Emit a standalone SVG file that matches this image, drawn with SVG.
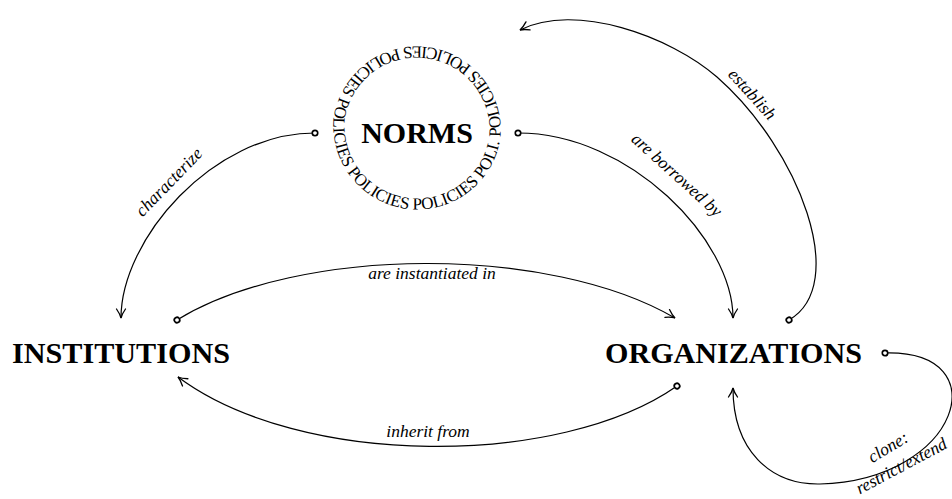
<svg xmlns="http://www.w3.org/2000/svg" width="952" height="499" viewBox="0 0 952 499">
<defs>
<style>
.node{font-family:"Liberation Serif","Times New Roman",serif;font-weight:bold;font-size:30px;fill:#000}
.ring{font-family:"Liberation Serif","Times New Roman",serif;font-size:17px;fill:#000}
.lbl{font-family:"Liberation Serif","Times New Roman",serif;font-style:italic;font-size:17.5px;fill:#000}
.edge{fill:none;stroke:#000;stroke-width:1.2;marker-start:url(#dot);marker-end:url(#arr)}
</style>
<marker id="arr" markerUnits="userSpaceOnUse" viewBox="-10 -6 12 12" refX="0" refY="0" markerWidth="12" markerHeight="12" orient="auto" overflow="visible">
<path d="M -9,-4.5 C -5,-1.7 -2,-0.5 0,0 C -2,0.5 -5,1.7 -9,4.5" fill="none" stroke="#000" stroke-width="1.3" stroke-linecap="round"/>
</marker>
<marker id="dot" markerUnits="userSpaceOnUse" viewBox="-5 -5 10 10" refX="0" refY="0" markerWidth="10" markerHeight="10" orient="auto" overflow="visible">
<circle cx="0" cy="0" r="2.7" fill="#fff" stroke="#000" stroke-width="1.7"/>
</marker>
<path id="ringpath" d="M 500.5,136.8 A 84,84 0 0 0 333.5,119.2 A 84,84 0 0 0 500.5,136.8"/>
</defs>
<rect width="952" height="499" fill="#fff"/>
<g id="norms">
<text class="ring"><textPath href="#ringpath" textLength="512" lengthAdjust="spacing">POLICIES POLICIES POLICIES POLICIES POLICIES POLICIES POLI.</textPath></text>
<text class="node" x="417" y="143" text-anchor="middle">NORMS</text>
</g>
<g id="institutions">
<text class="node" x="121" y="363" text-anchor="middle" textLength="218" lengthAdjust="spacingAndGlyphs">INSTITUTIONS</text>
</g>
<g id="organizations">
<text class="node" x="733.5" y="363" text-anchor="middle" textLength="257" lengthAdjust="spacingAndGlyphs">ORGANIZATIONS</text>
</g>
<g id="connectors">
<path class="edge" d="M 315,133 C 212,133 121,240 121,318"/>
<path class="edge" d="M 177,320 C 300,245 550,245 675,318"/>
<path class="edge" d="M 518,133 C 630,133 733,240 733,318"/>
<path class="edge" d="M 789,320 C 850,285 800,150 717,77 C 670,36 575,2 520,30"/>
<path class="edge" d="M 677,386 C 560,468 300,468 178,377"/>
<path class="edge" d="M 885,353 C 1000,350 960,480 820,484 C 770,485 733,450 733,388"/>
<text class="lbl" transform="translate(173,186) rotate(-46)" text-anchor="middle">characterize</text>
<text class="lbl" x="432" y="279" text-anchor="middle">are instantiated in</text>
<text class="lbl" transform="translate(673,179) rotate(42)" text-anchor="middle">are borrowed by</text>
<text class="lbl" transform="translate(748,98) rotate(48)" text-anchor="middle">establish</text>
<text class="lbl" x="428" y="437" text-anchor="middle">inherit from</text>
<text class="lbl" transform="translate(891,452) rotate(-31)" text-anchor="middle">clone:</text>
<text class="lbl" transform="translate(904,471) rotate(-28)" text-anchor="middle">restrict/extend</text>
</g>
</svg>
